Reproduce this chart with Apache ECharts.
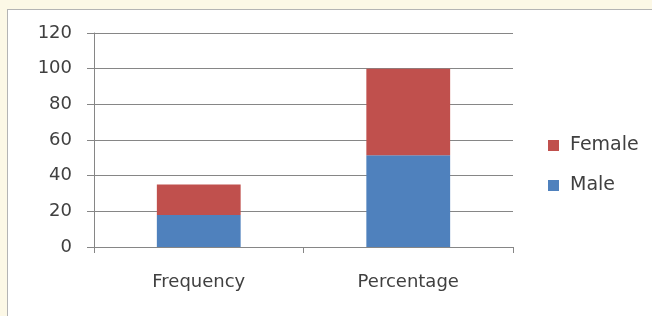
<!DOCTYPE html>
<html>
<head>
<meta charset="utf-8">
<script src="https://cdn.jsdelivr.net/npm/echarts@6/dist/echarts.min.js"></script>
<style>
  html, body { margin: 0; padding: 0; background: #fcf8e6; overflow: hidden; }
  #frame { position: absolute; left: 7px; top: 9px; width: 660px; height: 320px;
           background: #fff; border: 1px solid #b4b4b4; }
  #main { position: absolute; left: 0; top: 0; width: 652px; height: 316px; }
</style>
</head>
<body>
<div id="frame"></div>
<div id="main"></div>
<script>
const categories = ['Frequency', 'Percentage']
const maleValues = [18, 51.4]
const femaleValues = [17, 48.6]
const yTicks = { min: 0, max: 120, interval: 20 }

var myChart = echarts.init(document.getElementById('main'))
var font = 'DejaVu Sans'
var option = {
    backgroundColor: 'transparent',
    animation: false,
    textStyle: { fontFamily: font },
    grid: { left: 94, right: 139, top: 33, bottom: 69 },
    legend: {
        data: ['Female', 'Male'],
        orient: 'vertical',
        left: 543,
        top: 131,
        itemWidth: 11,
        itemHeight: 11,
        itemGap: 21,
        icon: 'rect',
        textStyle: { fontSize: 19, color: '#404040', fontFamily: font, padding: [0, 0, 0, 6] }
    },
    xAxis: {
        type: 'category',
        data: categories,
        axisLine: { lineStyle: { color: '#868686', width: 1 } },
        axisTick: { show: true, length: 6, lineStyle: { color: '#868686' } },
        axisLabel: { fontSize: 18, color: '#404040', margin: 26 }
    },
    yAxis: {
        type: 'value',
        min: yTicks.min,
        max: yTicks.max,
        interval: yTicks.interval,
        axisLine: { show: true, lineStyle: { color: '#868686' } },
        axisTick: { show: true, length: 7, lineStyle: { color: '#868686' } },
        axisLabel: { fontSize: 18, color: '#404040', margin: 22 },
        splitLine: { lineStyle: { color: '#868686', width: 1 } }
    },
    series: [
        {
            name: 'Male',
            type: 'bar',
            stack: 'total',
            barWidth: '40%',
            itemStyle: { color: '#4f81bd' },
            data: maleValues
        },
        {
            name: 'Female',
            type: 'bar',
            stack: 'total',
            barWidth: '40%',
            itemStyle: { color: '#c0504d' },
            data: femaleValues
        }
    ]
}
myChart.setOption(option)
</script>
</body>
</html>
